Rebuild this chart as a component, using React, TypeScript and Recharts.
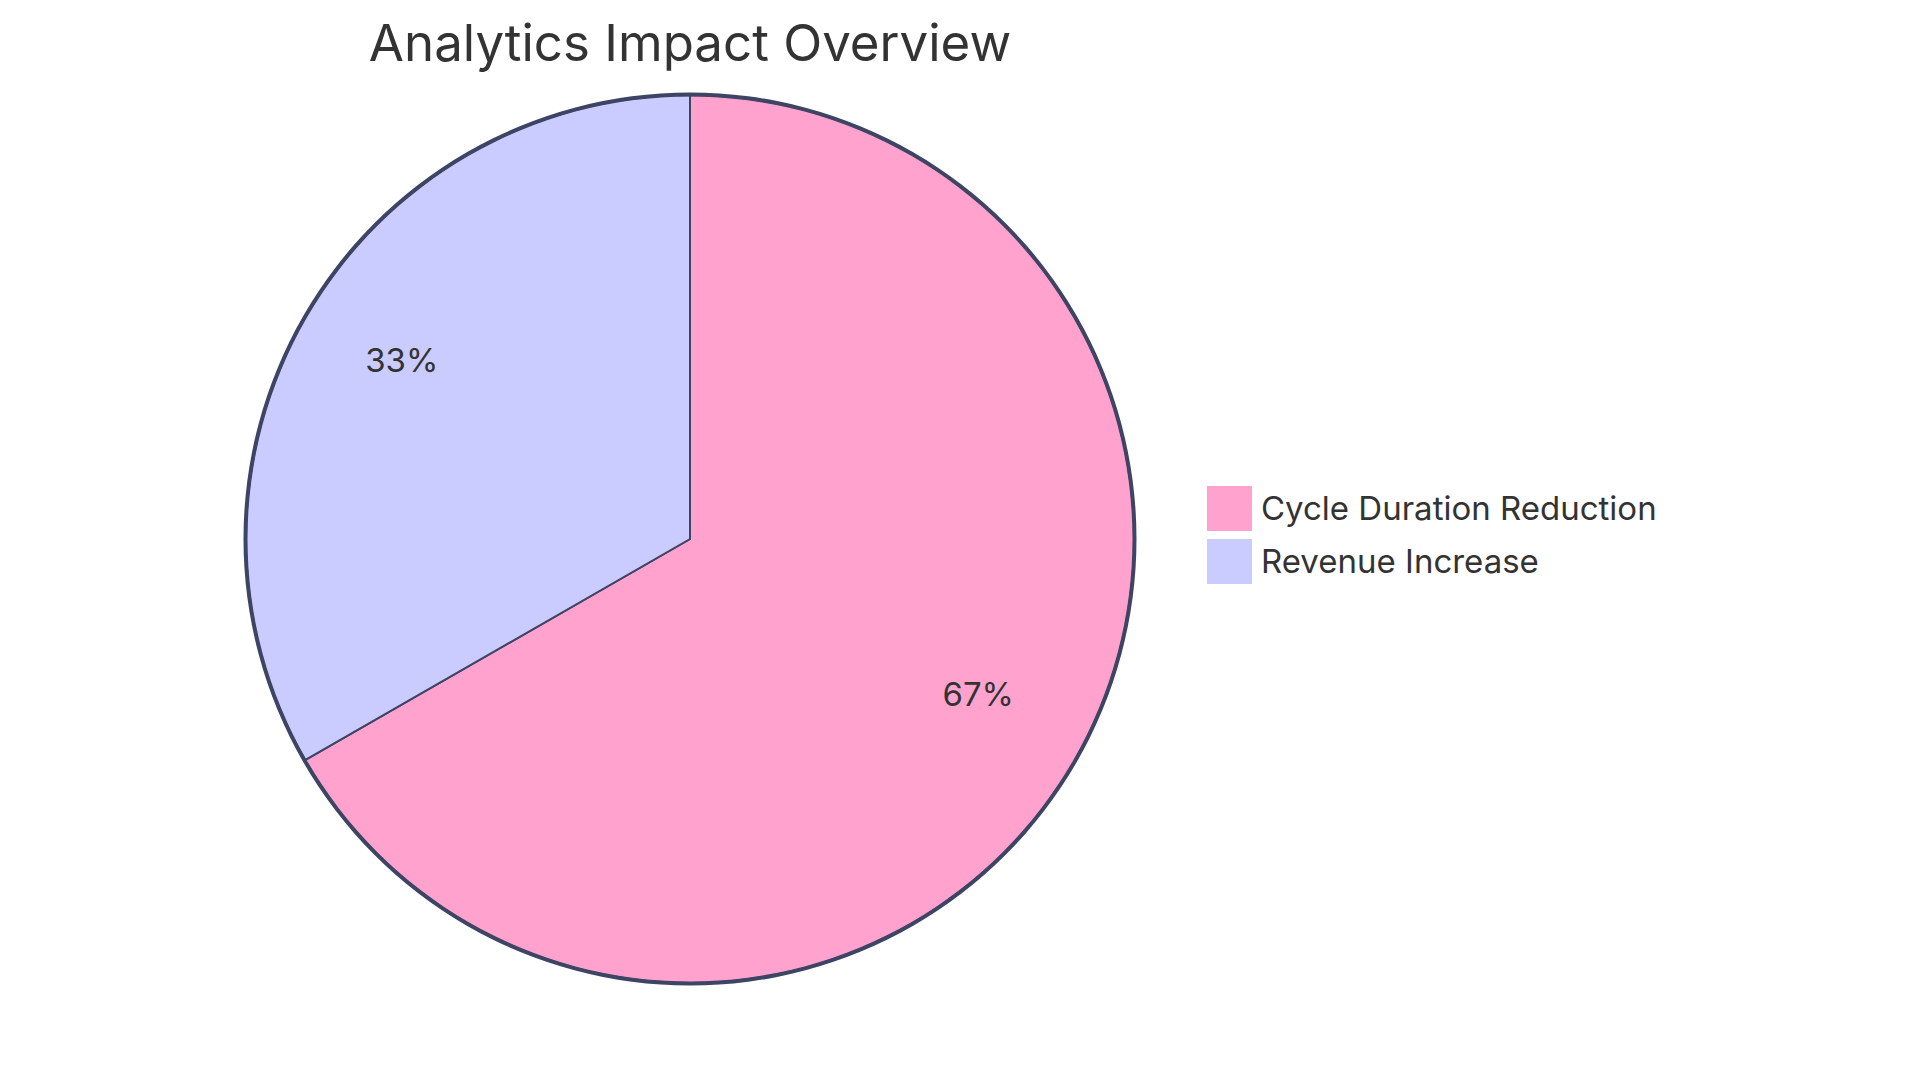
import React from 'react';
import { PieChart, Pie, Cell, Legend } from 'recharts';

const sliceNames = ['Cycle Duration Reduction', 'Revenue Increase'];
const sliceValues = [66.7, 33.3];
const sliceColors = ['#FFA3CE', '#CACBFF'];
const chartTitle = 'Analytics Impact Overview';

const STROKE = '#3E4463';
const TEXT = '#333333';
const FONT = 'Inter, "Open Sans", sans-serif';

const CX = 690;
const CY = 539;
const R = 444;
const RAD = Math.PI / 180;

const pieData = sliceNames.map((name, i) => ({ name, value: sliceValues[i] }));
const total = sliceValues.reduce((a, b) => a + b, 0);

function renderLabel(props: any) {
  const { cx, cy, midAngle, outerRadius, value } = props;
  const r = outerRadius * 0.75;
  const x = cx + r * Math.cos(-midAngle * RAD);
  const y = cy + r * Math.sin(-midAngle * RAD);
  return (
    <text x={x} y={y} textAnchor="middle" fill={TEXT} fontSize={33} fontFamily={FONT}>
      {`${Math.round((value / total) * 100)}%`}
    </text>
  );
}

function renderLegend() {
  return (
    <div style={{ fontFamily: FONT }}>
      {sliceNames.map((name, i) => (
        <div key={name} style={{ display: 'flex', alignItems: 'center', height: 45, marginBottom: 8 }}>
          <div style={{ width: 45, height: 45, background: sliceColors[i], marginRight: 9 }} />
          <span style={{ fontSize: 33, color: TEXT, lineHeight: 1 }}>{name}</span>
        </div>
      ))}
    </div>
  );
}

export default function App() {
  return (
    <div style={{ position: 'fixed', left: 0, top: 0, width: 1920, height: 1083, background: '#fff' }}>
      <div
        style={{
          position: 'absolute',
          left: 0,
          top: 17,
          width: 2 * CX,
          textAlign: 'center',
          fontFamily: FONT,
          fontSize: 51,
          lineHeight: 1,
          color: TEXT,
        }}
      >
        {chartTitle}
      </div>
      <PieChart width={1920} height={1083} margin={{ top: 0, right: 0, bottom: 0, left: 0 }}>
        <Pie
          data={pieData}
          dataKey="value"
          nameKey="name"
          cx={CX}
          cy={CY}
          outerRadius={R}
          startAngle={90}
          endAngle={-270}
          stroke={STROKE}
          strokeWidth={2}
          label={renderLabel}
          labelLine={false}
          isAnimationActive={false}
        >
          {pieData.map((d, i) => (
            <Cell key={d.name} fill={sliceColors[i]} />
          ))}
        </Pie>
        {/* thicker outer rim */}
        <Pie
          data={[{ name: 'rim', value: 1 }]}
          dataKey="value"
          cx={CX}
          cy={CY}
          innerRadius={R - 1.5}
          outerRadius={R + 2.5}
          startAngle={90}
          endAngle={-270}
          fill={STROKE}
          stroke="none"
          legendType="none"
          isAnimationActive={false}
        />
        <Legend
          content={renderLegend}
          layout="vertical"
          wrapperStyle={{ left: 1207, top: 486, width: 600 }}
        />
      </PieChart>
    </div>
  );
}
